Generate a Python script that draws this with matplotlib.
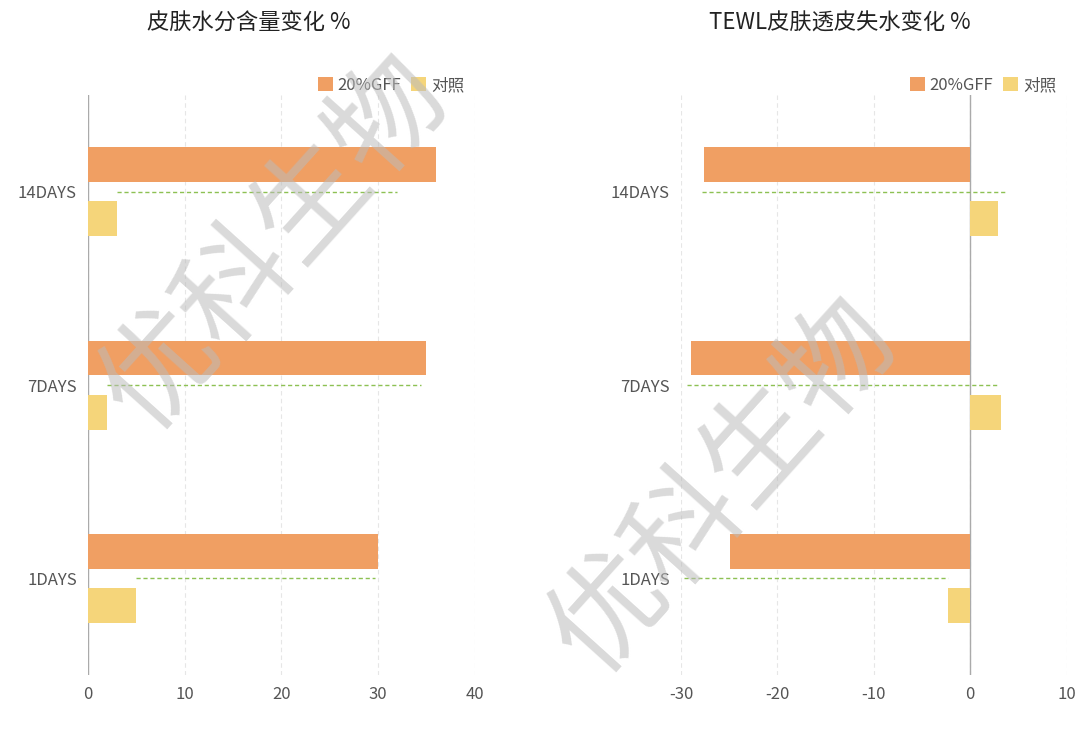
import matplotlib.pyplot as plt
import numpy as np

plt.rcParams['font.family'] = ['Noto Sans CJK SC', 'DejaVu Sans']
plt.rcParams['axes.unicode_minus'] = False

days = ["1DAYS", "7DAYS", "14DAYS"]
series_names = ["20%GFF", "对照"]

moist_gff = [30, 35, 36]
moist_ctrl = [5, 2, 3]
moist_dash = [(5, 29.7), (2, 34.5), (3, 32)]

tewl_gff = [-24.9, -29, -27.6]
tewl_ctrl = [-2.3, 3.2, 2.9]
tewl_dash = [(-29.7, -2.3), (-29.4, 3.0), (-27.8, 3.6)]

ORANGE = "#F09F63"
YELLOW = "#F5D57A"
GREEN = "#8DC153"

fig = plt.figure(figsize=(10.8, 7.35), dpi=100)
ax1 = fig.add_axes([0.0815, 0.0816, 0.358, 0.789])
ax2 = fig.add_axes([0.6306, 0.0816, 0.357, 0.789])


def draw(ax, gff, ctrl, dash, xlim, ticks, title, title_x):
    y = np.arange(len(days))
    ax.barh(y + 0.14, gff, height=0.18, color=ORANGE, label=series_names[0], zorder=3)
    ax.barh(y - 0.14, ctrl, height=0.18, color=YELLOW, label=series_names[1], zorder=3)
    for yi, (a, b) in zip(y, dash):
        ax.plot([a, b], [yi, yi], ls=(0, (3, 2)), color=GREEN, lw=1, zorder=4)
    ax.set_xlim(*xlim)
    ax.set_ylim(-0.5, 2.5)
    ax.set_xticks(ticks)
    ax.set_yticks(y)
    ax.set_yticklabels(days)
    ax.axvline(0, color="#aaaaaa", lw=1, zorder=2)
    ax.grid(axis="x", color="#e6e6e6", ls=(0, (4, 3)), lw=0.8, zorder=0)
    for s in ax.spines.values():
        s.set_visible(False)
    ax.tick_params(length=0, labelsize=12, colors="#555555", pad=8)
    ax.legend(loc="lower right", bbox_to_anchor=(1.0, 0.985), ncol=2, frameon=False,
              fontsize=12, handlelength=0.9, handleheight=0.9, columnspacing=0.6,
              handletextpad=0.3, labelcolor="#555555", borderaxespad=0.2)
    fig.text(title_x, 0.968, title, ha="center", va="center", fontsize=16,
             color="#222222", fontweight="medium")


draw(ax1, moist_gff, moist_ctrl, moist_dash, (0, 40), [0, 10, 20, 30, 40],
     "皮肤水分含量变化 %", 0.23)
draw(ax2, tewl_gff, tewl_ctrl, tewl_dash, (-30, 10), [-30, -20, -10, 0, 10],
     "TEWL皮肤透皮失水变化 %", 0.778)

# watermark
fig.text(0.255, 0.67, "优科生物", fontsize=82, color="#bbbbbb", alpha=0.55,
         rotation=48, ha="center", va="center", zorder=0)
fig.text(0.67, 0.34, "优科生物", fontsize=82, color="#bbbbbb", alpha=0.55,
         rotation=48, ha="center", va="center", zorder=0)

fig.savefig("out.png", dpi=100)
